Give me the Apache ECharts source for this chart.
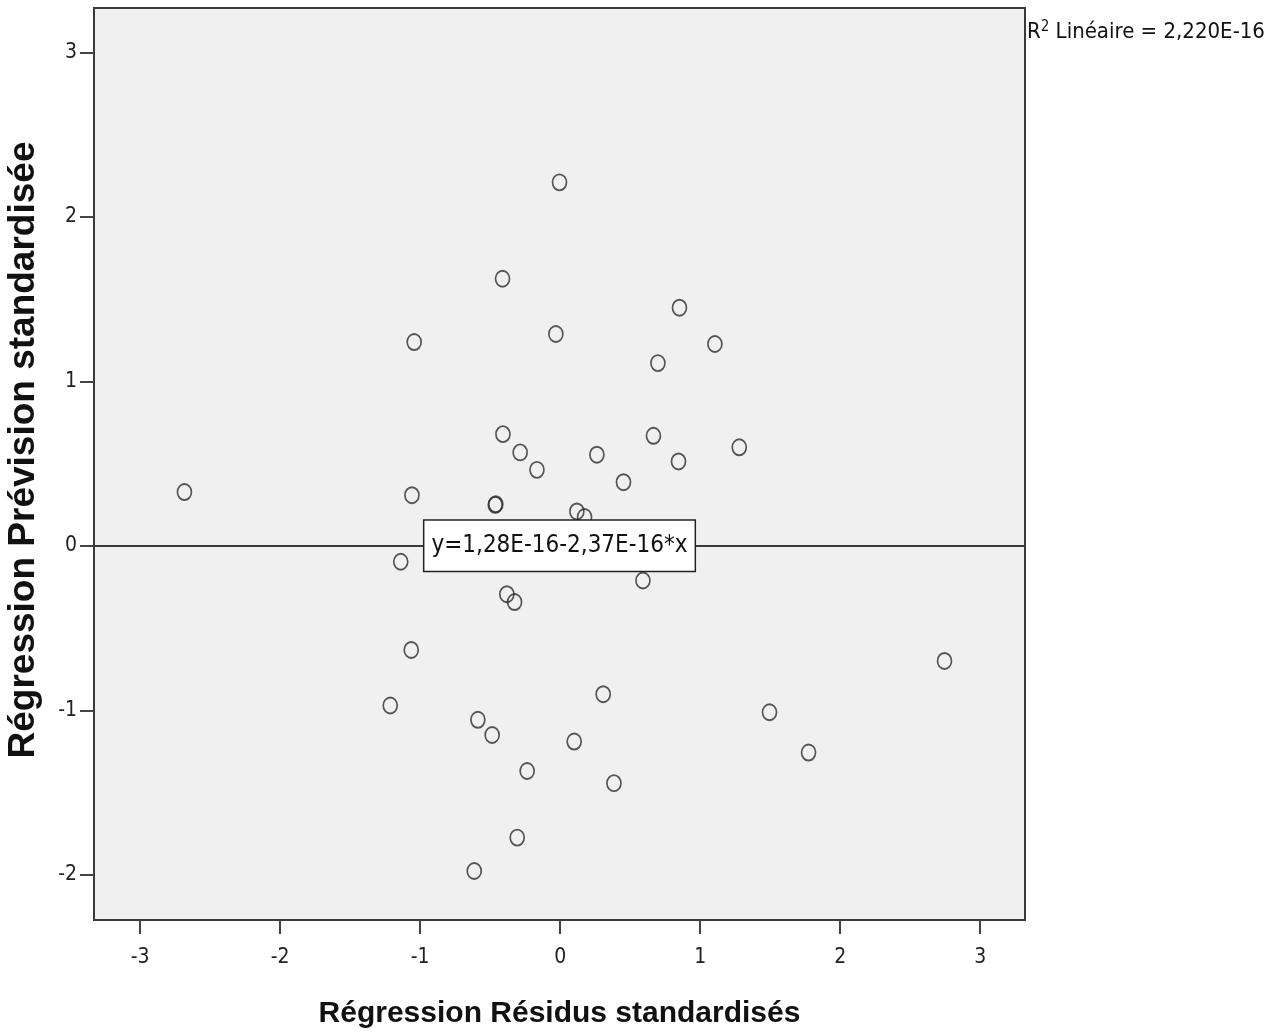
<!DOCTYPE html>
<html>
<head>
<meta charset="utf-8">
<title>Régression</title>
<script src="https://cdn.jsdelivr.net/npm/echarts@6/dist/echarts.min.js"></script>
<style>
  html, body { margin: 0; padding: 0; background: #fff; }
  #chart { width: 1274px; height: 1035px; }
</style>
</head>
<body>
<div id="chart"></div>
<script>
// Résidus standardisés (x)
const residus = [
  -0.005, -0.412, 0.852, -1.043, -0.031, 1.105, 0.698, -0.409, -0.286, -0.166,
  -1.059, -0.464, -0.460, 0.119, 0.174, 0.262, 0.666, 0.845, 0.452, 1.279,
  -2.684, -1.139, 0.591, -0.381, -0.326, -1.064, 2.745, 0.307, -1.214, 1.495,
  -0.588, -0.486, 0.100, 1.774, -0.236, 0.384, -0.307, -0.614
]
// Prévisions standardisées (y)
const previsions = [
  2.210, 1.624, 1.448, 1.239, 1.288, 1.227, 1.111, 0.679, 0.568, 0.462,
  0.308, 0.249, 0.253, 0.209, 0.175, 0.554, 0.669, 0.513, 0.387, 0.599,
  0.327, -0.097, -0.211, -0.294, -0.342, -0.633, -0.700, -0.902, -0.971, -1.012,
  -1.058, -1.150, -1.190, -1.257, -1.369, -1.443, -1.774, -1.977
]
const xTicks = [-3, -2, -1, 0, 1, 2, 3]
const yTicks = [-2, -1, 0, 1, 2, 3]
const fitIntercept = 1.28e-16
const fitLabel = 'y=1,28E-16-2,37E-16*x'
const r2Label = 'R{sup|2} Linéaire = 2,220E-16'

const narrow = '"DejaVu Sans Condensed", "Liberation Sans Narrow", sans-serif'
const sans = '"Liberation Sans", Arial, sans-serif'

const points = residus.map((x, i) => [x, previsions[i]])

const chart = echarts.init(document.getElementById('chart'))

const option = {
  animation: false,
  backgroundColor: '#fff',
  grid: {
    left: 94,
    right: 249,
    top: 8,
    bottom: 115,
    outerBoundsMode: 'none', // garder la zone de tracé fixe
    show: true,
    backgroundColor: '#f0f0f0',
    borderColor: '#3a3a3a',
    borderWidth: 2
  },
  xAxis: {
    type: 'value',
    min: -3.33,
    max: 3.32,
    name: 'Régression Résidus standardisés',
    nameLocation: 'middle',
    nameGap: 79,
    nameTextStyle: { fontFamily: sans, fontWeight: 'bold', fontSize: 30, color: '#111' },
    axisLine: { show: true, onZero: false, lineStyle: { color: '#3a3a3a', width: 2 } },
    axisTick: { show: true, length: 14, customValues: xTicks, lineStyle: { color: '#444', width: 2 } },
    axisLabel: { customValues: xTicks, margin: 27, fontFamily: narrow, fontSize: 21, color: '#222' },
    splitLine: { show: false }
  },
  yAxis: {
    type: 'value',
    min: -2.275,
    max: 3.27,
    name: 'Régression Prévision standardisée',
    nameLocation: 'middle',
    nameGap: 52,
    nameTextStyle: { fontFamily: sans, fontWeight: 'bold', fontSize: 37, color: '#111', padding: [0, 0, 0, 28] },
    axisLine: { show: true, onZero: false, lineStyle: { color: '#3a3a3a', width: 2 } },
    axisTick: { show: true, length: 14, customValues: yTicks, lineStyle: { color: '#444', width: 2 } },
    axisLabel: { customValues: yTicks, margin: 17, fontFamily: narrow, fontSize: 21, color: '#222' },
    splitLine: { show: false }
  },
  graphic: [{
    type: 'text',
    left: 1027,
    top: 20,
    style: {
      text: r2Label,
      fontFamily: narrow,
      fontSize: 22,
      fill: '#111',
      rich: {
        sup: { fontFamily: narrow, fontSize: 15, padding: [0, 0, 10, 0], fill: '#111' }
      }
    }
  }],
  series: [{
    type: 'scatter',
    data: points,
    symbol: 'circle',
    symbolSize: [14, 16],
    itemStyle: { color: 'rgba(0,0,0,0)', borderColor: '#2e2e2e', borderWidth: 1.8 },
    markLine: {
      silent: true,
      symbol: 'none',
      animation: false,
      lineStyle: { color: '#3a3a3a', width: 2, type: 'solid' },
      label: {
        show: true,
        position: 'insideMiddle',
        distance: 0,
        formatter: fitLabel,
        fontFamily: narrow,
        fontSize: 24,
        color: '#111',
        backgroundColor: '#fff',
        borderColor: '#222',
        borderWidth: 1.5,
        padding: [6, 7, 6, 7],
        lineHeight: 38
      },
      data: [{ yAxis: fitIntercept }]
    }
  }]
}

chart.setOption(option)
</script>
</body>
</html>
